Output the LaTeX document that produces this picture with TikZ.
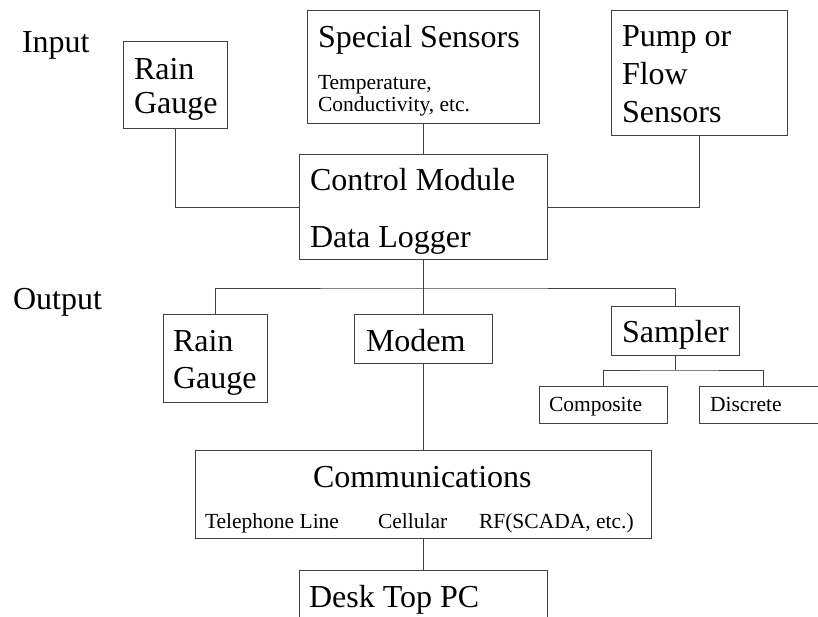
\documentclass[tikz,border=0pt]{standalone}
\usepackage{fontspec}
\setmainfont{Liberation Serif}
\newcommand\bigf{\fontsize{32}{37}\selectfont}
\newcommand\smallf{\fontsize{21.5}{25}\selectfont}
\definecolor{lc}{gray}{0.25}
\tikzset{
  box/.style={draw=lc, line width=1pt, inner sep=0pt, outer sep=0pt, anchor=north west},
  txt/.style={anchor=base west, inner sep=0pt, outer sep=0pt, text=black},
  bigtxt/.style={txt, font=\bigf},
  smalltxt/.style={txt, font=\smallf},
  conn/.style={draw=lc, line width=1pt}
}
\begin{document}
\begin{tikzpicture}[x=1pt, y=-1pt]
\clip (0,0) rectangle (818,617);
\fill[white] (0,0) rectangle (818,617);

% boxes
\node[box, minimum width=104pt, minimum height=87pt] (rg1) at (123,42) {};
\node[box, minimum width=232pt, minimum height=113pt] (spec) at (307,11) {};
\node[box, minimum width=176pt, minimum height=125pt] (pump) at (611,11) {};
\node[box, minimum width=248pt, minimum height=105pt] (ctrl) at (299,155) {};
\node[box, minimum width=104pt, minimum height=88pt] (rg2) at (163,314) {};
\node[box, minimum width=138pt, minimum height=49pt] (modem) at (354,314) {};
\node[box, minimum width=128pt, minimum height=49pt] (samp) at (611,306) {};
\node[box, minimum width=128pt, minimum height=37pt] (comp) at (539,386) {};
\node[box, minimum width=128pt, minimum height=37pt] (disc) at (699,386) {};
\node[box, minimum width=456pt, minimum height=88pt] (comm) at (195,450) {};
\node[box, minimum width=248pt, minimum height=80pt] (desk) at (299,570) {};

% texts
\node[bigtxt] (tin) at (22,53) {Input};
\node[bigtxt] (tout) at (13,309) {Output};
\node[bigtxt] (trg1a) at (134,80) {Rain};
\node[bigtxt] (trg1b) at (134,114) {Gauge};
\node[bigtxt] (tspec) at (318,48) {Special Sensors};
\node[smalltxt] (tspeca) at (318,90) {Temperature,};
\node[smalltxt] (tspecb) at (318,112) {Conductivity, etc.};
\node[bigtxt] (tpumpa) at (622,47) {Pump or};
\node[bigtxt] (tpumpb) at (622,85) {Flow};
\node[bigtxt] (tpumpc) at (622,123) {Sensors};
\node[bigtxt] (tctrla) at (310,191) {Control Module};
\node[bigtxt] (tctrlb) at (310,248) {Data Logger};
\node[bigtxt] (trg2a) at (173,351) {Rain};
\node[bigtxt] (trg2b) at (173,388) {Gauge};
\node[bigtxt] (tmodem) at (366,351) {Modem};
\node[bigtxt] (tsamp) at (622,342) {Sampler};
\node[smalltxt] (tcomp) at (549,411) {Composite};
\node[smalltxt] (tdisc) at (710,411) {Discrete};
\node[bigtxt] (tcomm) at (313,487) {Communications};
\node[smalltxt] (ttel) at (205,528) {Telephone Line};
\node[smalltxt] (tcell) at (378,528) {Cellular};
\node[smalltxt] (trf) at (479,528) {RF(SCADA, etc.)};
\node[bigtxt] (tdesk) at (309,607) {Desk Top PC};

% connectors
\coordinate (bus) at (423,288);
\coordinate (sbus) at (675,370);
\draw[conn] (rg1.south) |- (ctrl.west);
\draw[conn] (pump.south) |- (ctrl.east);
\draw[conn] (spec.south) -- (ctrl.north);
\draw[conn] (ctrl.south) -- (bus);
\draw[conn] (rg2.north) |- (bus) -| (samp.north);
\draw[conn] (bus) -- (modem.north);
\draw[conn] (modem.south) -- (comm.north);
\draw[conn] (comm.south) -- (desk.north);
\draw[conn] (samp.south) -- (sbus);
\draw[conn] (comp.north) |- (sbus) -| (disc.north);
\end{tikzpicture}
\end{document}
